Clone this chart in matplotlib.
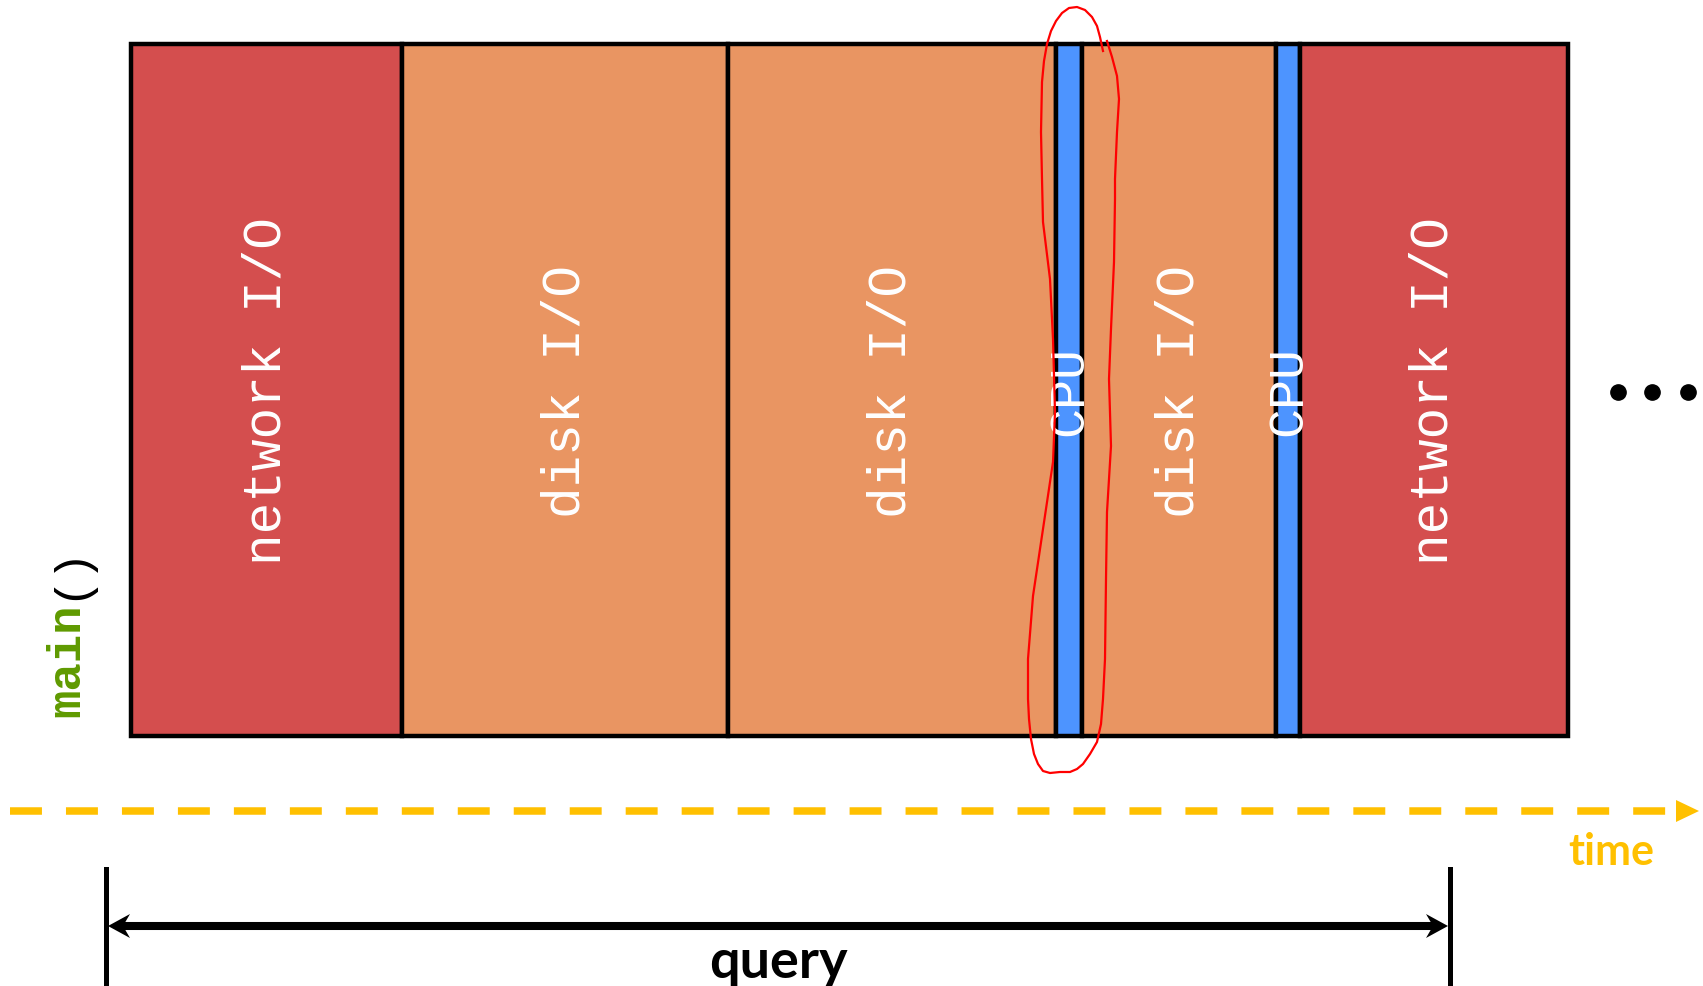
import matplotlib
matplotlib.use("Agg")
import matplotlib.pyplot as plt
import numpy as np

# timeline of one query: what main() is busy with
labels = ["network I/O", "disk I/O", "disk I/O", "CPU", "disk I/O", "CPU", "network I/O"]
kinds = ["net", "disk", "disk", "cpu", "disk", "cpu", "net"]
durations = [271, 326, 328, 26, 194, 24, 268]   # time units (1 unit = 1 px)

colors = {"net": "#D44E4E", "disk": "#E99562", "cpu": "#4D94FF"}

t0 = 131          # where the timeline starts
top, bottom = 45, 737

# hand drawn red loop around the first CPU slice
loop_x = [1103, 1100, 1097, 1092, 1085, 1077, 1069, 1062, 1056, 1051, 1047, 1044, 1042, 1041,
          1042, 1043, 1050, 1053, 1055, 1053, 1043, 1033, 1028, 1028, 1029, 1031, 1034, 1038,
          1043, 1050, 1060, 1070, 1077, 1083, 1090, 1097, 1101, 1103, 1105, 1106, 1107, 1111,
          1109, 1111, 1114, 1115, 1115, 1117, 1119, 1117, 1112, 1107]
loop_y = [52, 38, 27, 18, 11, 8, 9, 14, 22, 32, 45, 62, 83, 133,
          180, 223, 280, 340, 413, 463, 530, 597, 660, 700, 720, 740, 755, 765,
          772, 774, 773, 773, 770, 765, 755, 743, 725, 700, 660, 580, 513, 447,
          380, 330, 263, 200, 180, 133, 100, 77, 58, 42]

plt.rcParams["lines.scale_dashes"] = False
fig = plt.figure(figsize=(17.03, 9.87), dpi=100)
ax = fig.add_axes([0, 0, 1, 1])
ax.set_xlim(0, 1703)
ax.set_ylim(987, 0)
ax.axis("off")

lefts = t0 + np.concatenate([[0], np.cumsum(durations)[:-1]])
ax.bar(lefts, bottom - top, width=durations, bottom=top, align="edge",
       color=[colors[k] for k in kinds], edgecolor="black", linewidth=3.2, zorder=2)

for l, d, lab, k in zip(lefts, durations, labels, kinds):
    ax.text(l + d / 2, (top + bottom) / 2, lab, rotation=90, ha="center", va="center",
            color="white", fontsize=36 if k == "cpu" else 38, family="Liberation Mono", zorder=3)

ax.plot(loop_x, loop_y, color="red", lw=1.6, zorder=4, solid_joinstyle="round")

# main() label
t_main = ax.text(67, 717, "main", rotation=90, ha="center", va="bottom", color="#5F9A00",
                 fontsize=34, fontweight="bold", family="Liberation Mono")
fig.canvas.draw()
bb = t_main.get_window_extent()
ax.text(bb.x0 + bb.width / 2 + 2, bb.y1 + 3, "()", rotation=90, ha="center", va="bottom",
        color="black", fontsize=34, family="Liberation Mono", transform=None)

# dots after the last slice
ax.plot([1618, 1652, 1688], [393, 393, 393], "o", color="black", ms=11)

# time axis
yel = "#FFC000"
ax.plot([10, 1666], [812, 812], color=yel, lw=5.4, dashes=(23, 17.3), solid_capstyle="butt")
ax.fill([1676, 1699, 1676], [801, 812, 823], color=yel, lw=0)
ax.text(1611, 865, "time", ha="center", va="baseline", color=yel, fontsize=31,
        fontweight="bold", family="Lato")

# query span
ax.plot([106, 106], [870, 987], color="black", lw=3.6)
ax.plot([1450, 1450], [870, 987], color="black", lw=3.6)
ax.plot([120, 1436], [927, 927], color="black", lw=5.8, solid_capstyle="butt")
ax.fill([108, 130, 123, 130], [927, 915, 927, 939], color="black", lw=0)
ax.fill([1448, 1426, 1433, 1426], [927, 915, 927, 939], color="black", lw=0)
ax.text(778, 978, "query", ha="center", va="baseline", color="black", fontsize=39,
        fontweight="bold", family="Lato")

fig.savefig("out.png", dpi=100)
